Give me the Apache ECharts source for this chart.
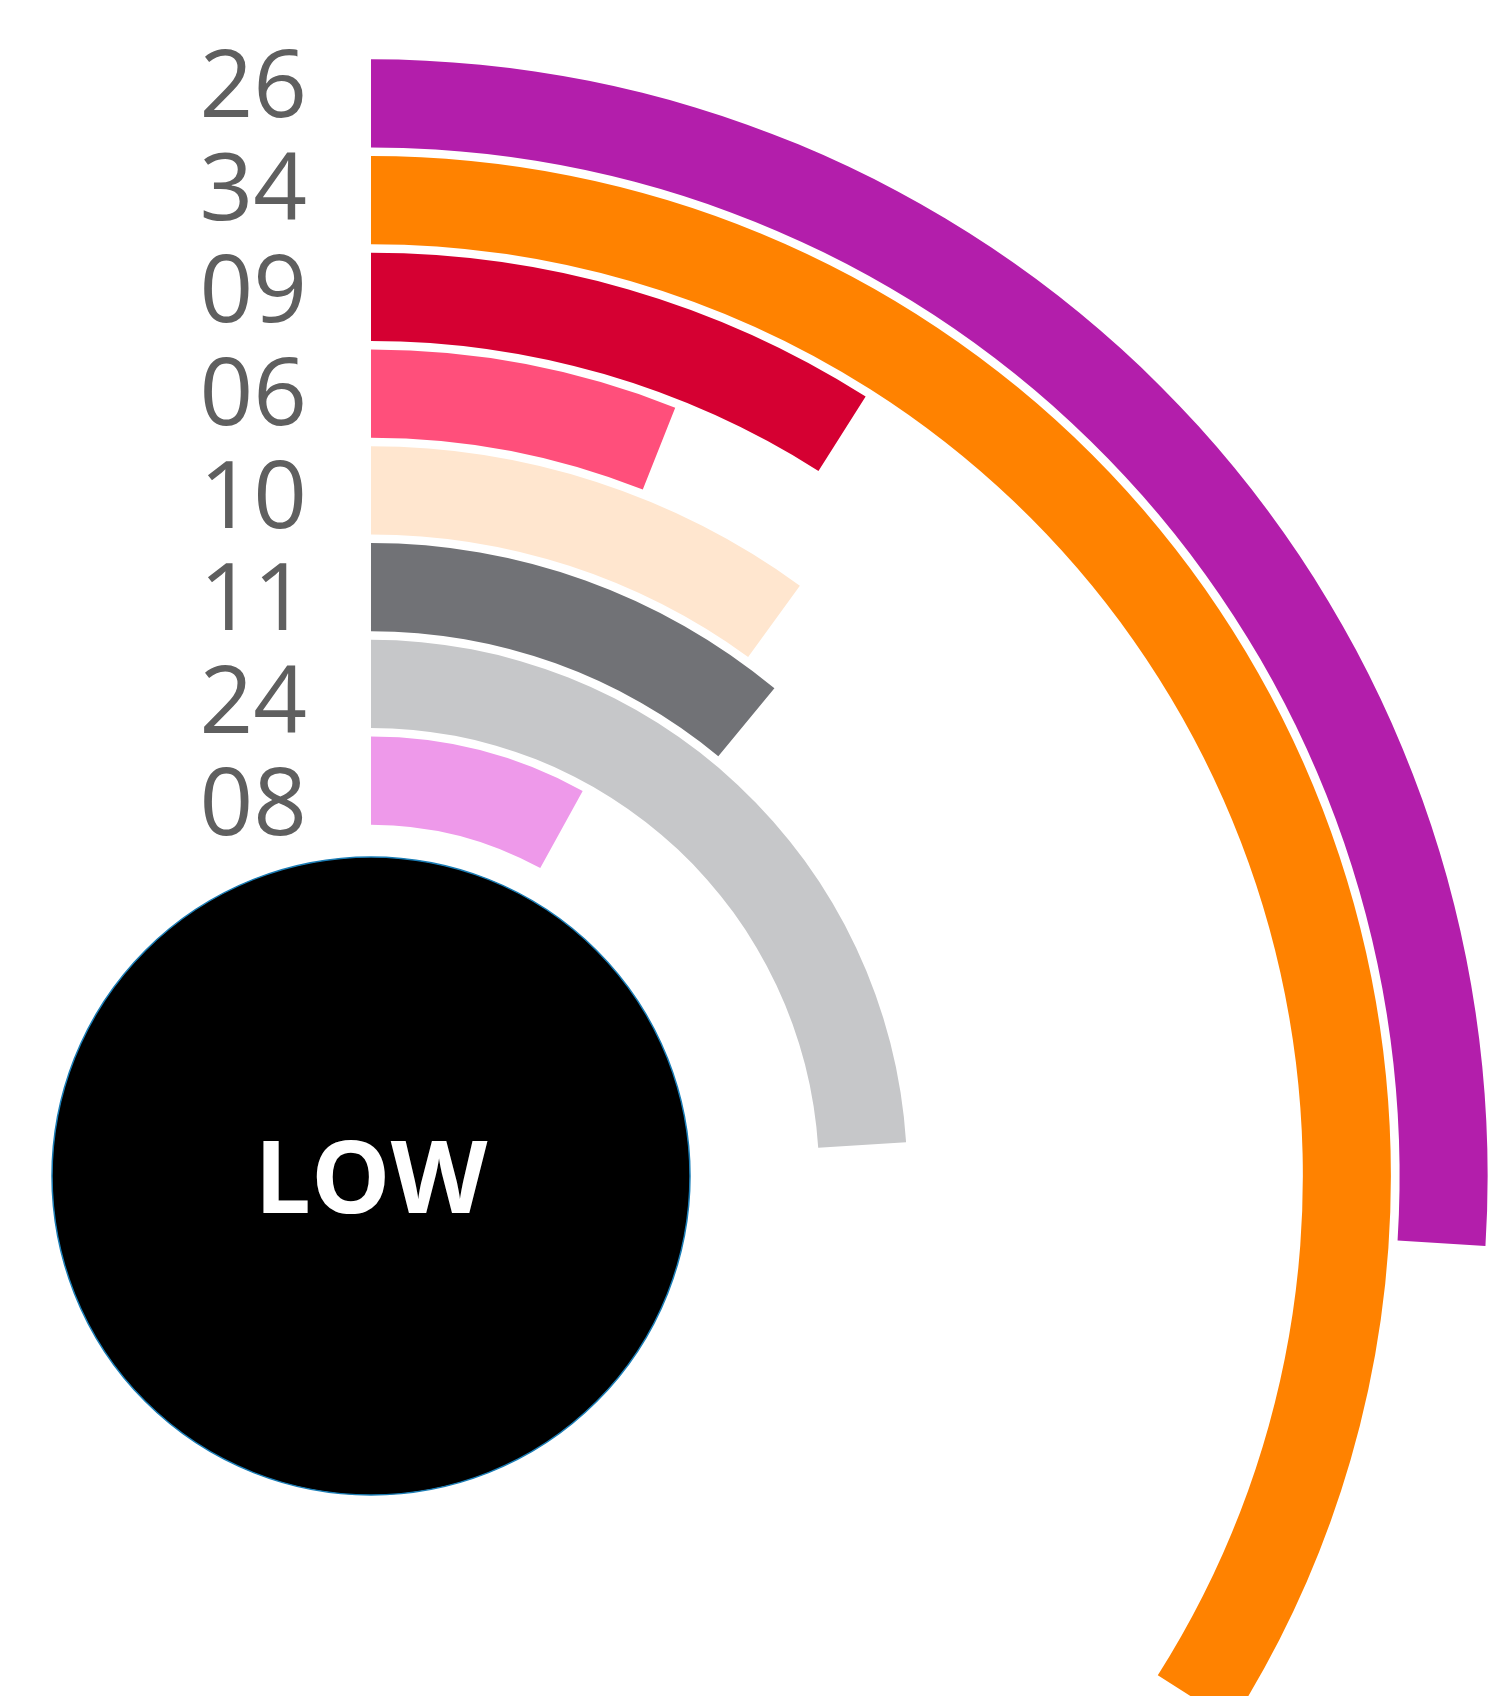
<!DOCTYPE html>
<html>
<head>
<meta charset="utf-8">
<script src="https://cdn.jsdelivr.net/npm/echarts@6/dist/echarts.min.js"></script>
<style>
  html, body { margin: 0; padding: 0; background: #fff; }
  #chart { width: 1503px; height: 1696px; }
</style>
</head>
<body>
<div id="chart"></div>
<script>
// inner ring -> outer ring
const categories = ['08', '24', '11', '10', '06', '09', '34', '26']
const values = [8, 24, 11, 10, 6, 9, 34, 26]
const colors = ['#EE99EA', '#C6C7C9', '#717276', '#FFE6CF', '#FF4F7B', '#D50032', '#FF8200', '#B31EAB']
const centerLabel = 'LOW'

const center = [371, 1176]

const chart = echarts.init(document.getElementById('chart'), null, { renderer: 'canvas' })

chart.setOption({
  animation: false,
  polar: [
    { center: center, radius: [347, 1121] },
    // labels are spaced a bit wider than the rings
    { center: center, radius: [316, 1137] }
  ],
  angleAxis: [{
    polarIndex: 0,
    type: 'value',
    min: 0,
    max: 100,
    startAngle: 90,
    clockwise: true,
    show: false
  }, {
    polarIndex: 1,
    type: 'value',
    min: 0,
    max: 100,
    startAngle: 90,
    show: false
  }],
  radiusAxis: [{
    polarIndex: 0,
    type: 'category',
    data: categories,
    axisLine: { show: false },
    axisTick: { show: false },
    splitLine: { show: false },
    axisLabel: { show: false }
  }, {
    polarIndex: 1,
    type: 'category',
    data: categories,
    axisLine: { show: false },
    axisTick: { show: false },
    splitLine: { show: false },
    axisLabel: {
      show: true,
      interval: 0,
      margin: 64,
      fontFamily: 'Open Sans',
      fontSize: 94,
      color: '#5f5f5f'
    }
  }],
  series: [{
    type: 'bar',
    coordinateSystem: 'polar',
    polarIndex: 0,
    barCategoryGap: '9%',
    silent: true,
    data: values.map((v, i) => ({
      value: v,
      itemStyle: { color: colors[i] }
    }))
  }, {
    type: 'pie',
    center: center,
    radius: [0, 319],
    silent: true,
    startAngle: 90,
    label: {
      show: true,
      position: 'center',
      formatter: '{b}',
      offset: [0, 9],
      color: '#fff',
      fontFamily: 'Open Sans',
      fontWeight: 'bold',
      fontSize: 100
    },
    labelLine: { show: false },
    itemStyle: {
      color: '#000',
      borderColor: '#1a7db6',
      borderWidth: 1.5
    },
    data: [{ value: 1, name: centerLabel }]
  }]
})
</script>
</body>
</html>
